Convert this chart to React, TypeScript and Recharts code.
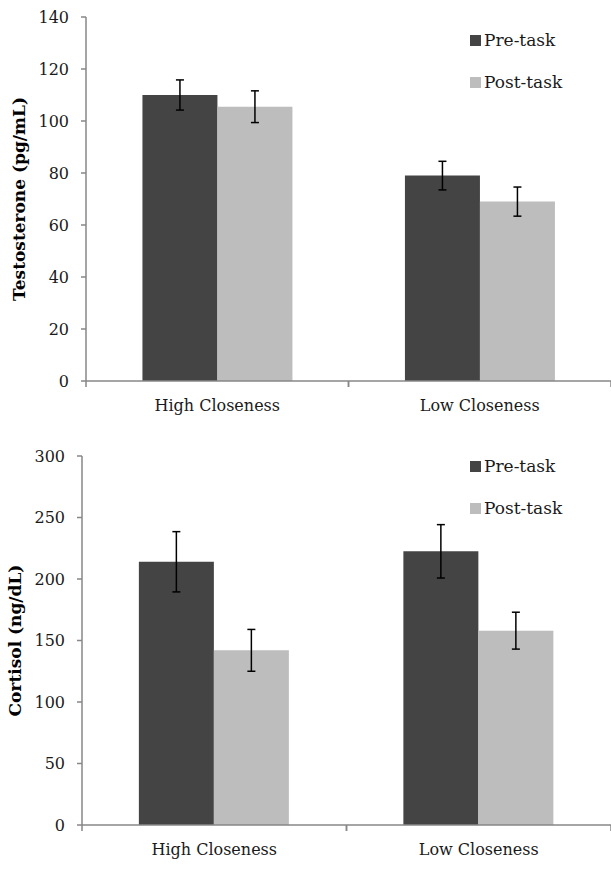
import { BarChart, Bar, XAxis, YAxis, ErrorBar, Legend } from "recharts";

const categories = ["High Closeness", "Low Closeness"];

const testoPre = [110, 79];
const testoPost = [105.5, 69];
const testoPreErr = [5.8, 5.5];
const testoPostErr = [6.1, 5.6];
const testoTicks = [0, 20, 40, 60, 80, 100, 120, 140];

const cortPre = [214, 222.5];
const cortPost = [142, 158];
const cortPreErr = [24.5, 21.7];
const cortPostErr = [17, 15];
const cortTicks = [0, 50, 100, 150, 200, 250, 300];

const seriesOrder = ["Pre-task", "Post-task"];

const PRE = "#444444";
const POST = "#bdbdbd";
const AXIS = "#878787";
const FONT = "'DejaVu Serif', serif";

const testoData = categories.map((name, i) => ({
  name,
  pre: testoPre[i],
  post: testoPost[i],
  preErr: testoPreErr[i],
  postErr: testoPostErr[i]
}));

const cortData = categories.map((name, i) => ({
  name,
  pre: cortPre[i],
  post: cortPost[i],
  preErr: cortPreErr[i],
  postErr: cortPostErr[i]
}));

const TICK_MARGIN = 19;

// category label plus Excel-style tick marks between categories
function CategoryTick(props: any) {
  const { x, y, payload } = props;
  const off = payload?.offset ?? 131;
  const axisY = y - TICK_MARGIN;
  return (
    <g>
      <line x1={x - off} x2={x - off} y1={axisY} y2={axisY + 6} stroke={AXIS} strokeWidth={1.5} />
      <line x1={x + off} x2={x + off} y1={axisY} y2={axisY + 6} stroke={AXIS} strokeWidth={1.5} />
      <text x={x} y={y} dy="0.71em" textAnchor="middle" fill="#1a1a1a" fontSize={16} fontFamily={FONT}>
        {payload.value}
      </text>
    </g>
  );
}

function LegendBox(props: any) {
  const items = [...(props.payload || [])].sort(
    (a: any, b: any) => seriesOrder.indexOf(a.value) - seriesOrder.indexOf(b.value)
  );
  return (
    <div style={{ fontFamily: FONT, fontSize: 17, color: "#1a1a1a" }}>
      {items.map((it: any) => (
        <div key={it.value} style={{ display: "flex", alignItems: "center", height: 42 }}>
          <span style={{ width: 11, height: 11, background: it.color, marginRight: 3, display: "inline-block" }} />
          <span>{it.value}</span>
        </div>
      ))}
    </div>
  );
}

function Panel(props: {
  data: any[];
  height: number;
  top: number;
  axisWidth: number;
  ticks: number[];
  max: number;
  label: string;
  labelDx: number;
  legendTop: number;
}) {
  const { data, height, top, axisWidth, ticks, max, label, labelDx, legendTop } = props;
  return (
    <BarChart
      width={611}
      height={height}
      data={data}
      margin={{ top, right: 0, bottom: 0, left: 0 }}
      barCategoryGap="21.5%"
      barGap={0}
    >
      <XAxis
        dataKey="name"
        height={44}
        tickLine={false}
        tickMargin={TICK_MARGIN}
        tickSize={0}
        axisLine={{ stroke: AXIS, strokeWidth: 1.5 }}
        tick={<CategoryTick />}
        interval={0}
      />
      <YAxis
        width={axisWidth}
        domain={[0, max]}
        ticks={ticks}
        interval={0}
        tickSize={5}
        tickMargin={12}
        tickLine={{ stroke: AXIS, strokeWidth: 1.5 }}
        axisLine={{ stroke: AXIS, strokeWidth: 1.5 }}
        tick={{ fill: "#1a1a1a", fontSize: 16, fontFamily: FONT }}
        label={{
          value: label,
          angle: -90,
          position: "center",
          dx: labelDx,
          fill: "#000",
          fontSize: 17,
          fontWeight: "bold",
          fontFamily: FONT
        }}
      />
      <Legend
        layout="horizontal"
        verticalAlign="middle"
        align="center"
        content={<LegendBox />}
        wrapperStyle={{ top: legendTop, left: 470, right: "auto", width: 140 }}
      />
      <Bar dataKey="pre" name="Pre-task" fill={PRE} isAnimationActive={false}>
        <ErrorBar dataKey="preErr" width={4} stroke="#000" strokeWidth={1.5} />
      </Bar>
      <Bar dataKey="post" name="Post-task" fill={POST} isAnimationActive={false}>
        <ErrorBar dataKey="postErr" width={4} stroke="#000" strokeWidth={1.5} />
      </Bar>
    </BarChart>
  );
}

export default function App() {
  return (
    <div style={{ position: "absolute", left: 0, top: 0, width: 611, height: 869, background: "#fff" }}>
      <Panel
        data={testoData}
        height={425}
        top={17}
        axisWidth={86}
        ticks={testoTicks}
        max={140}
        label="Testosterone (pg/mL)"
        labelDx={-24}
        legendTop={19}
      />
      <div style={{ height: 5 }} />
      <Panel
        data={cortData}
        height={439}
        top={26}
        axisWidth={82}
        ticks={cortTicks}
        max={300}
        label="Cortisol (ng/dL)"
        labelDx={-26}
        legendTop={15}
      />
    </div>
  );
}
